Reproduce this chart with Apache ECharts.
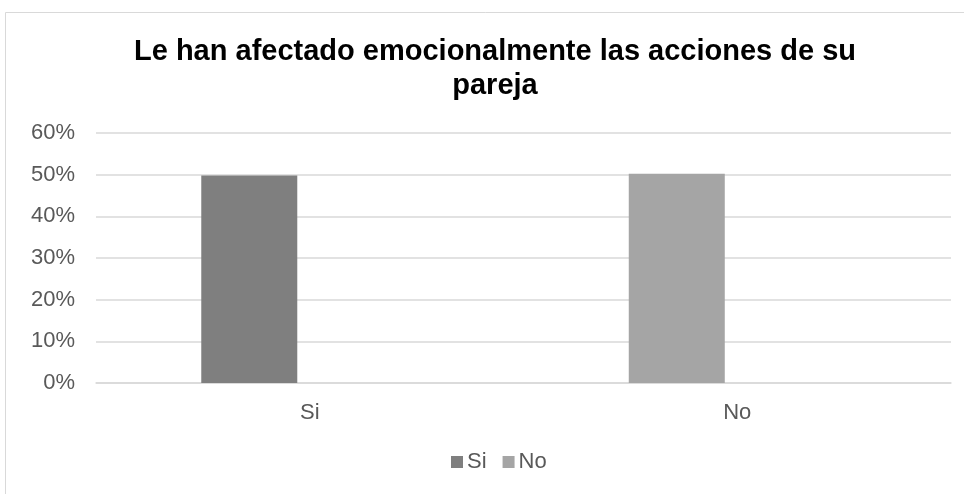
<!DOCTYPE html>
<html>
<head>
<meta charset="utf-8">
<script src="https://cdn.jsdelivr.net/npm/echarts@6/dist/echarts.min.js"></script>
<style>html,body{margin:0;padding:0;background:#fff}#c{width:964px;height:494px}</style>
</head>
<body>
<div id="c"></div>
<script>
const titleText = 'Le han afectado emocionalmente las acciones de su\npareja';
const categories = ['Si', 'No'];
const values = [49.8, 50.2];
const seriesNames = ['Si', 'No'];
const yTicks = [0, 10, 20, 30, 40, 50, 60];

const colors = ['#7f7f7f', '#a5a5a5'];
const chart = echarts.init(document.getElementById('c'), null, {renderer: 'canvas'});
const font = '"Liberation Sans", Arial, sans-serif';
chart.setOption({
  animation: false,
  backgroundColor: '#fff',
  graphic: [
    {
      type: 'rect', shape: {x: 5.5, y: 12.5, width: 1000, height: 600},
      style: {fill: 'none', stroke: '#d9d9d9', lineWidth: 1}, silent: true, z: -1
    },
    {
      type: 'text', x: 495, y: 35, silent: true,
      style: {
        text: titleText, align: 'center', verticalAlign: 'top',
        font: 'bold 29px ' + font, lineHeight: 34, fill: '#000'
      }
    }
  ],
  legend: {
    data: seriesNames, top: 451, left: 451, padding: 0, icon: 'rect', itemWidth: 12, itemHeight: 12, itemGap: 16,
    textStyle: {fontFamily: font, fontSize: 22, color: '#595959', padding: [0, 0, 0, -1]}
  },
  grid: {left: 96, right: 13, top: 133, bottom: 111, containLabel: false},
  xAxis: {
    type: 'category', data: categories,
    axisLine: {show: true, lineStyle: {color: '#d9d9d9', width: 1.5}},
    axisTick: {show: false},
    axisLabel: {fontFamily: font, fontSize: 22, color: '#595959', margin: 19}
  },
  yAxis: {
    type: 'value', min: yTicks[0], max: yTicks[yTicks.length - 1], interval: 10,
    axisLine: {show: false}, axisTick: {show: false},
    splitLine: {lineStyle: {color: '#d9d9d9', width: 1.5}},
    axisLabel: {fontFamily: font, fontSize: 22, color: '#595959', margin: 21, formatter: '{value}%'}
  },
  series: [
    {
      name: seriesNames[0], type: 'bar', barWidth: 96, barGap: '26%',
      itemStyle: {color: colors[0]},
      data: values.map((v, i) => ({value: v, itemStyle: {color: colors[i]}}))
    },
    {
      name: seriesNames[1], type: 'bar', barWidth: 96, barGap: '26%',
      itemStyle: {color: colors[1]},
      data: categories.map(() => null)
    }
  ]
});
</script>
</body>
</html>
